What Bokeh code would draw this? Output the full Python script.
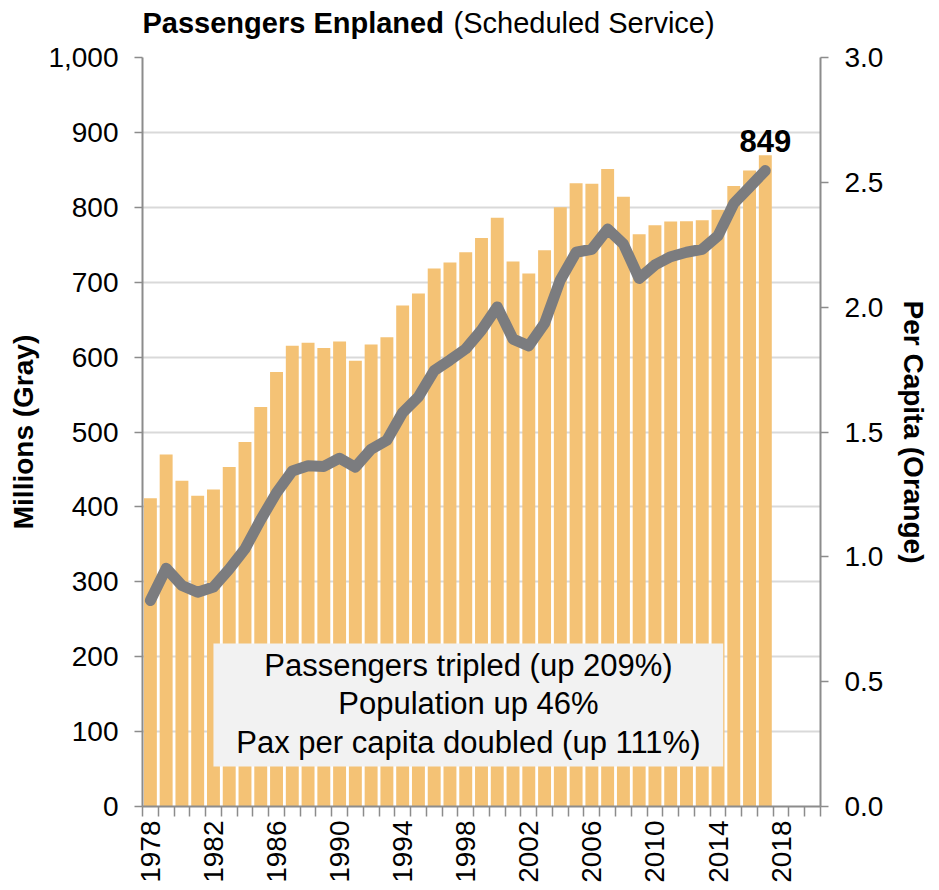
from bokeh.plotting import figure
from bokeh.models import (Range1d, LinearAxis, FixedTicker, NumeralTickFormatter,
                          Label, BoxAnnotation, ColumnDataSource)
from bokeh.layouts import column
from bokeh.core.properties import value
from bokeh.embed import file_html
from bokeh.resources import INLINE
import math

# ---- data ----
years = list(range(1978, 2018))
passengers_millions = [275, 318, 295, 286, 293, 317, 344, 383, 419, 448,
                       455, 454, 465, 453, 477, 489, 526, 547, 582, 596,
                       611, 636, 667, 624, 615, 645, 703, 740, 744, 771,
                       751, 705, 723, 734, 740, 744, 762, 805, 827, 849]
per_capita = [1.235, 1.41, 1.305, 1.245, 1.27, 1.36, 1.46, 1.60, 1.74, 1.845,
              1.857, 1.836, 1.862, 1.785, 1.85, 1.88, 2.007, 2.055, 2.155, 2.179,
              2.22, 2.277, 2.358, 2.183, 2.135, 2.228, 2.40, 2.496, 2.494, 2.553,
              2.442, 2.292, 2.328, 2.343, 2.344, 2.348, 2.39, 2.485, 2.547, 2.608]
x_tick_years = list(range(1978, 2019, 4))
left_ticks = list(range(0, 1001, 100))
right_ticks = [0.0, 0.5, 1.0, 1.5, 2.0, 2.5, 3.0]
notes = ["Passengers tripled (up 209%)", "Population up 46%",
         "Pax per capita doubled (up 111%)"]
title_bold = "Passengers Enplaned"
title_rest = "(Scheduled Service)"
last_value_label = "849"

FONT = "Liberation Sans"
BAR = "#F4C275"
LINE = "#7B7C7F"
AXIS = "#8C8C8C"
GRID = "#D9D9D9"

# ---- header (title with bold + regular parts) ----
HEAD_H = 40
head = figure(width=939, height=HEAD_H, output_backend="svg", toolbar_location=None,
              x_range=Range1d(0, 1), y_range=Range1d(0, 1),
              min_border_left=142, min_border_right=119,
              min_border_top=0, min_border_bottom=0)
head.axis.visible = False
head.grid.visible = False
head.outline_line_color = None
head.text(x=[0], y=[0.45], text=[title_bold], text_font=value(FONT),
          text_font_style="bold", text_font_size="29px", text_color="black",
          text_baseline="middle", text_align="left")
head.text(x=[0], y=[0.45], x_offset=311, text=[title_rest], text_font=value(FONT),
          text_font_size="29px", text_color="black",
          text_baseline="middle", text_align="left")

# ---- main chart ----
src = ColumnDataSource(dict(year=years, pax=passengers_millions, pc=per_capita))

p = figure(width=939, height=890 - HEAD_H, output_backend="svg", toolbar_location=None,
           x_range=Range1d(1977.5, 2020.5), y_range=Range1d(0, 1000),
           min_border_left=142, min_border_right=119, min_border_top=57 - HEAD_H,
           min_border_bottom=84)
p.outline_line_color = None
p.background_fill_color = "white"
p.border_fill_color = "white"
p.extra_y_ranges = {"right": Range1d(0, 3)}

# grid
p.xgrid.grid_line_color = None
p.ygrid.grid_line_color = GRID
p.ygrid.grid_line_width = 2
p.ygrid.ticker = FixedTicker(ticks=left_ticks)

# bars (per capita, right axis)
p.vbar(x="year", top="pc", width=0.82, source=src, y_range_name="right",
       fill_color=BAR, line_color=None)

# line (passengers, left axis)
p.line(x="year", y="pax", source=src, line_color=LINE, line_width=11,
       line_join="round", line_cap="round")

# x axis
xa = p.xaxis[0]
xa.ticker = FixedTicker(ticks=x_tick_years,
                        minor_ticks=[y - 0.5 for y in range(1978, 2022)])
xa.major_label_orientation = math.pi / 2
xa.major_tick_out = 0
xa.major_tick_in = 0
xa.minor_tick_out = 10
xa.minor_tick_in = 0
xa.minor_tick_line_color = AXIS
xa.minor_tick_line_width = 1.5
xa.axis_line_color = AXIS
xa.axis_line_width = 2
xa.major_label_text_font = FONT
xa.major_label_text_font_size = "28px"
xa.major_label_text_color = "black"
xa.major_label_standoff = 4

# left axis
ya = p.yaxis[0]
ya.ticker = FixedTicker(ticks=left_ticks)
ya.formatter = NumeralTickFormatter(format="0,0")
ya.axis_label = "Millions (Gray)"
ya.axis_label_text_font = FONT
ya.axis_label_text_font_style = "bold"
ya.axis_label_text_font_size = "28px"
ya.axis_label_text_color = "black"
ya.axis_label_standoff = 6
ya.major_label_text_font = FONT
ya.major_label_text_font_size = "28px"
ya.major_label_text_color = "black"
ya.major_label_standoff = 16
ya.major_tick_out = 8
ya.major_tick_in = 0
ya.minor_tick_line_color = None
ya.axis_line_color = AXIS
ya.axis_line_width = 2
ya.major_tick_line_color = AXIS
ya.major_tick_line_width = 1.5

# right axis
ra = LinearAxis(y_range_name="right", ticker=FixedTicker(ticks=right_ticks),
                formatter=NumeralTickFormatter(format="0.0"))
ra.axis_label = "Per Capita (Orange)"
ra.axis_label_text_font = FONT
ra.axis_label_text_font_style = "bold"
ra.axis_label_text_font_size = "28px"
ra.axis_label_text_color = "black"
ra.axis_label_standoff = 12
ra.major_label_text_font = FONT
ra.major_label_text_font_size = "28px"
ra.major_label_text_color = "black"
ra.major_label_standoff = 16
ra.major_tick_out = 8
ra.major_tick_in = 0
ra.minor_tick_line_color = None
ra.axis_line_color = AXIS
ra.axis_line_width = 2
ra.major_tick_line_color = AXIS
ra.major_tick_line_width = 1.5
p.add_layout(ra, "right")

# last value label
p.add_layout(Label(x=years[-1], y=passengers_millions[-1], y_offset=30,
                   text=last_value_label, text_font=FONT, text_font_style="bold",
                   text_font_size="31px", text_color="black",
                   text_align="center", text_baseline="alphabetic"))

# notes box
p.add_layout(BoxAnnotation(left=1982.0, right=2014.33, bottom=53.4, top=217.6,
                           fill_color="#F2F2F2", fill_alpha=1, line_color=None))
for txt, yv in zip(notes, [188, 137.5, 85.4]):
    p.add_layout(Label(x=1998.17, y=yv, text=txt, text_font=FONT,
                       text_font_size="31px", text_color="black",
                       text_align="center", text_baseline="middle"))

layout = column(head, p, spacing=0)
open("out.html", "w").write(file_html(layout, INLINE))
